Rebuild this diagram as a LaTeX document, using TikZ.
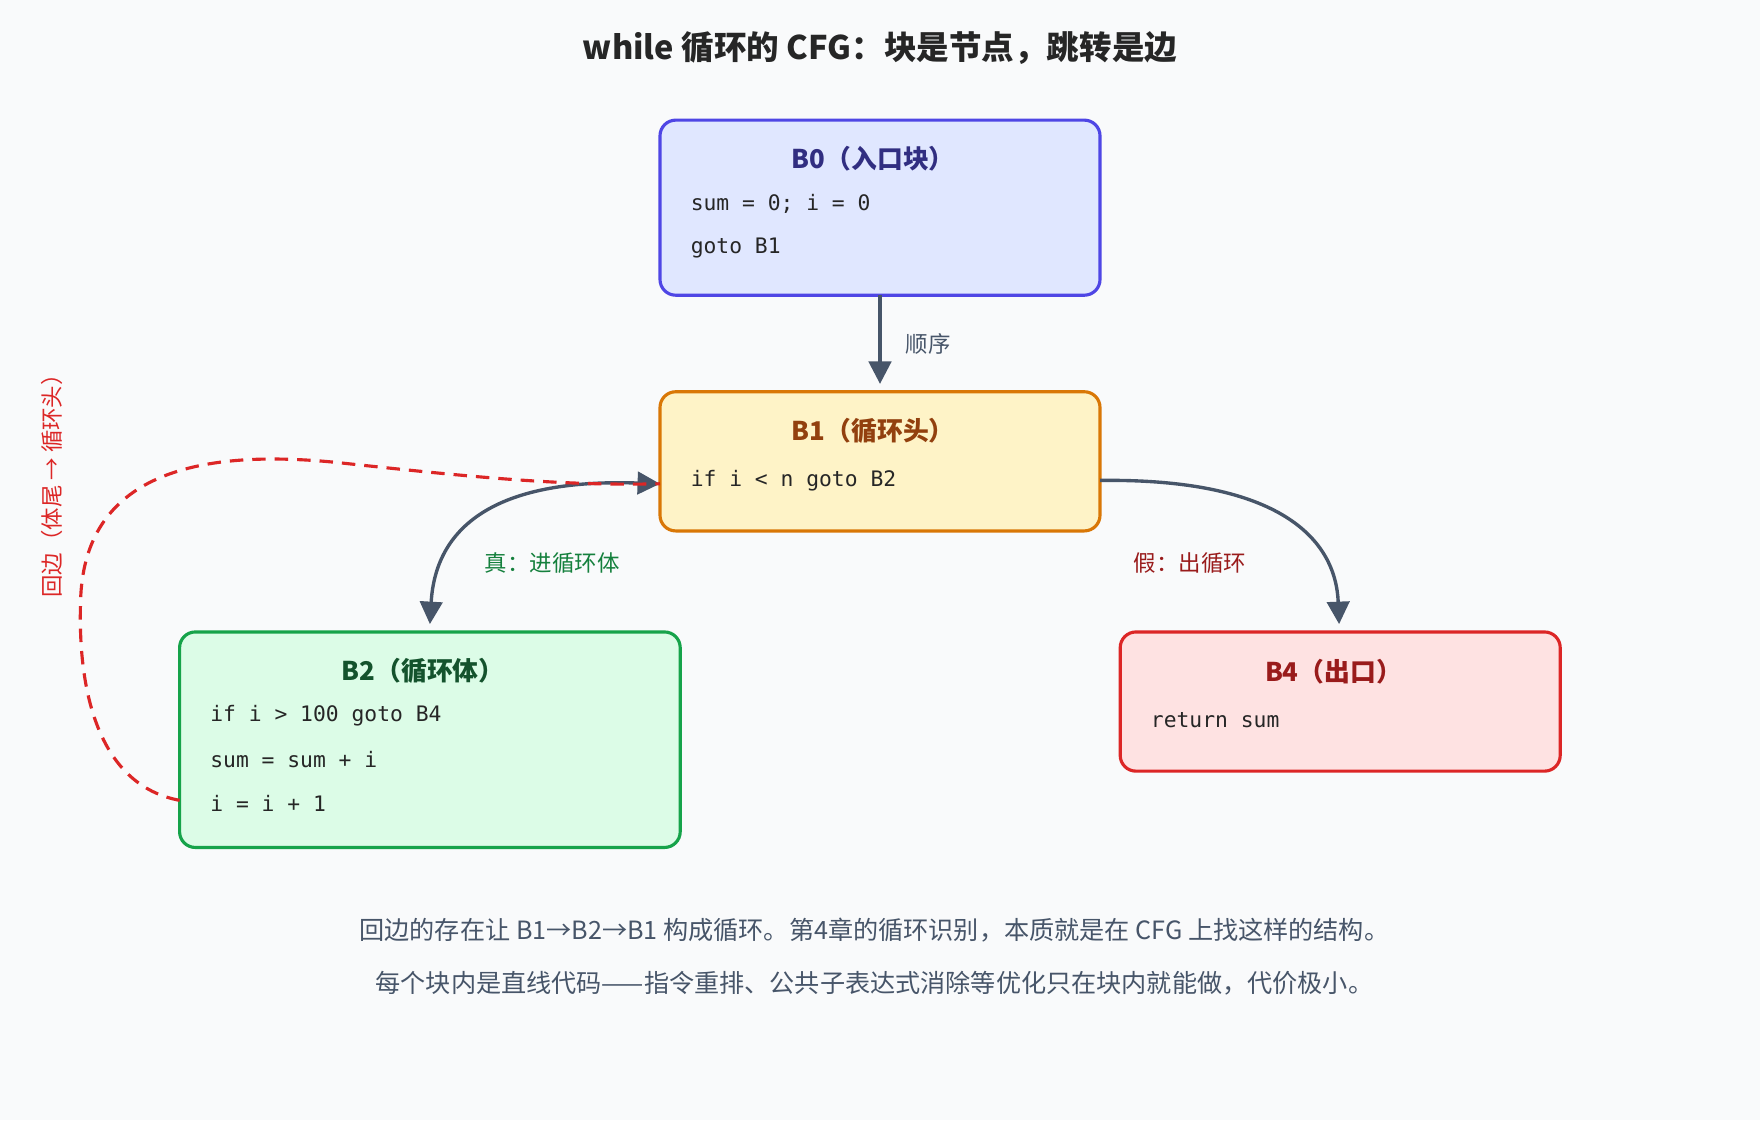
\documentclass[tikz,border=0pt]{standalone}
\usepackage{fontspec}
\setmainfont{Noto Sans CJK SC}
\setmonofont{DejaVu Sans Mono}
\usetikzlibrary{arrows.meta}
\definecolor{bg}{HTML}{F9FAFB}
\definecolor{edge}{HTML}{475569}
\definecolor{c0d}{HTML}{4F46E5}\definecolor{c0f}{HTML}{E0E7FF}\definecolor{c0t}{HTML}{312E81}
\definecolor{c1d}{HTML}{D97706}\definecolor{c1f}{HTML}{FEF3C7}\definecolor{c1t}{HTML}{92400E}
\definecolor{c2d}{HTML}{16A34A}\definecolor{c2f}{HTML}{DCFCE7}\definecolor{c2t}{HTML}{14532D}
\definecolor{c4d}{HTML}{DC2626}\definecolor{c4f}{HTML}{FEE2E2}\definecolor{c4t}{HTML}{991B1B}
\definecolor{cgl}{HTML}{15803D}
\begin{document}
\begin{tikzpicture}[x=0.5pt,y=-0.5pt,
 box/.style={draw,line width=1.4pt,rounded corners=7pt},
 ttl/.style={font=\fontsize{11.5}{13}\selectfont\bfseries},
 code/.style={font=\ttfamily\fontsize{9.5}{11}\selectfont,anchor=west,inner sep=0pt,text=black!85},
 lbl/.style={font=\fontsize{10}{11}\selectfont},
 arr/.style={draw=edge,line width=1.5pt,-{Triangle[length=10pt,width=10pt]}}]
\fill[bg] (0,0) rectangle (1568,998);
\useasboundingbox (0,0) rectangle (1568,998);
\node[font=\fontsize{14.5}{16}\selectfont\bfseries,text=black!85] (title) at (784,43) {while 循环的 CFG：块是节点，跳转是边};
% B0
\draw[box,draw=c0d,fill=c0f] (588,107) rectangle (980,263);
\node[ttl,text=c0t] (b0t) at (778,141) {B0（入口块）};
\node[code] (b0a) at (615,182) {sum = 0; i = 0};
\node[code] (b0b) at (615,221) {goto B1};
% B1
\draw[box,draw=c1d,fill=c1f] (588,349) rectangle (980,473);
\node[ttl,text=c1t] (b1t) at (778,384) {B1（循环头）};
\node[code] (b1a) at (615,428) {if i < n goto B2};
% B2
\draw[box,draw=c2d,fill=c2f] (160,563) rectangle (606,755);
\node[ttl,text=c2t] (b2t) at (377,598) {B2（循环体）};
\node[code] (b2a) at (187,638) {if i > 100 goto B4};
\node[code] (b2b) at (187,677) {sum = sum + i};
\node[code] (b2c) at (187,716) {i = i + 1};
% B4
\draw[box,draw=c4d,fill=c4f] (998,563) rectangle (1390,687);
\node[ttl,text=c4t] (b4t) at (1188,598) {B4（出口）};
\node[code] (b4a) at (1025,642) {return sum};
% edges
\coordinate (b0s) at (784,263);
\coordinate (b1n) at (784,342);
\draw[arr] (b0s) -- (b1n);
\node[lbl,text=edge] (l1) at (827,306) {顺序};
\coordinate (b1w) at (588,431);
\coordinate (b2n) at (383,556);
\draw[draw=edge,line width=1.5pt,{Triangle[length=10pt,width=10pt]}-{Triangle[length=10pt,width=10pt]}] (b1w) .. controls (440,426) and (388,470) .. (b2n);
\node[lbl,text=cgl] (l2) at (492,502) {真：进循环体};
\coordinate (b1e) at (980,428);
\coordinate (b4n) at (1193,556);
\draw[arr] (b1e) .. controls (1140,426) and (1190,480) .. (b4n);
\node[lbl,text=c4t] (l3) at (1060,502) {假：出循环};
\coordinate (b2w) at (160,713);
\draw[draw=c4d,line width=1.4pt,dash pattern=on 6pt off 4pt]
 (b2w) .. controls (90,700) and (68,620) .. (72,530)
 .. controls (78,420) and (180,400) .. (300,412)
 .. controls (420,425) and (500,433) .. (b1w);
\node[lbl,text=c4d,rotate=90] (l4) at (46,428) {回边（体尾 → 循环头）};
\node[font=\fontsize{11.2}{12}\selectfont,text=edge] (f1) at (779,829) {回边的存在让 B1→B2→B1 构成循环。第4章的循环识别，本质就是在 CFG 上找这样的结构。};
\node[font=\fontsize{11.2}{12}\selectfont,text=edge] (f2) at (779,876) {每个块内是直线代码——指令重排、公共子表达式消除等优化只在块内就能做，代价极小。};
\end{tikzpicture}
\end{document}
